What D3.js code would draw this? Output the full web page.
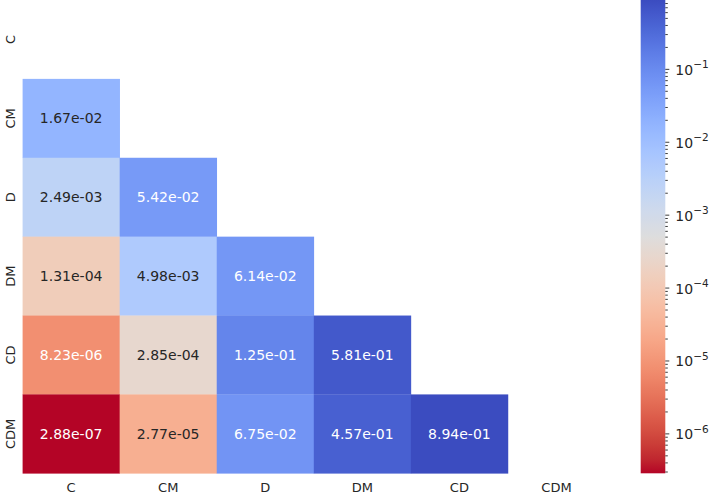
<!DOCTYPE html>
<html><head><meta charset="utf-8">
<script src="https://cdn.jsdelivr.net/npm/d3@7"></script>
<style>body{margin:0;background:#fff}svg{display:block}text{font-family:"DejaVu Sans",sans-serif}</style>
</head><body>
<svg id="c" width="710" height="494"></svg>
<script>
const labels = ["C","CM","D","DM","CD","CDM"];
// lower triangle values: rows[i] has i entries (columns 0..i-1)
const rowCM  = [1.67e-02];
const rowD   = [2.49e-03, 5.42e-02];
const rowDM  = [1.31e-04, 4.98e-03, 6.14e-02];
const rowCD  = [8.23e-06, 2.85e-04, 1.25e-01, 5.81e-01];
const rowCDM = [2.88e-07, 2.77e-05, 6.75e-02, 4.57e-01, 8.94e-01];
const rows = [[], rowCM, rowD, rowDM, rowCD, rowCDM];
const cbarExps = [-6,-5,-4,-3,-2,-1];

// matplotlib coolwarm (Moreland) control points
const cw = [[59,76,192],[68,90,204],[77,104,215],[87,117,225],[98,130,234],[108,142,241],[119,154,247],[130,165,251],[141,176,254],[152,185,255],[163,194,255],[174,201,253],[184,208,249],[194,213,244],[204,217,238],[213,219,230],[221,221,221],[229,216,209],[236,211,197],[241,204,185],[245,196,173],[247,187,160],[247,177,148],[247,166,135],[244,154,123],[241,141,111],[236,127,99],[229,112,88],[222,96,77],[213,80,66],[203,62,56],[192,40,47],[180,4,38]];
const cwScale = d3.scaleLinear().domain(cw.map((d,i)=>i/(cw.length-1))).range(cw.map(c=>d3.rgb(c[0],c[1],c[2]).toString())).interpolate(d3.interpolateRgb).clamp(true);

const cells = [];
rows.forEach((r,i)=>r.forEach((v,j)=>cells.push({row:i,col:j,v})));
const vmin = d3.min(cells,d=>d.v), vmax = d3.max(cells,d=>d.v);
const norm = d3.scaleLog().domain([vmin,vmax]).range([0,1]).clamp(true);
const color = v => cwScale(1 - norm(v));   // coolwarm_r

function lum(c){
  const rgb=d3.rgb(c);
  const f=x=>{x/=255;return x<=0.03928?x/12.92:Math.pow((x+0.055)/1.055,2.4);};
  return 0.2126*f(rgb.r)+0.7152*f(rgb.g)+0.0722*f(rgb.b);
}

const svg = d3.select("#c");
const L=22.6, R=605.0, T=0, B=473.3;
const x = d3.scaleBand().domain(labels).range([L,R]);
const y = d3.scaleBand().domain(labels).range([T,B]);

const g = svg.append("g");
g.selectAll("rect").data(cells).join("rect")
  .attr("x",d=>x(labels[d.col])).attr("y",d=>y(labels[d.row]))
  .attr("width",x.bandwidth()+0.3).attr("height",y.bandwidth()+0.3)
  .attr("fill",d=>color(d.v));
g.selectAll("text").data(cells).join("text")
  .attr("x",d=>x(labels[d.col])+x.bandwidth()/2)
  .attr("y",d=>y(labels[d.row])+y.bandwidth()/2)
  .attr("text-anchor","middle").attr("dominant-baseline","central")
  .attr("font-size","14px")
  .attr("fill",d=>lum(color(d.v))>0.408?"#262626":"#ffffff")
  .text(d=>d.v.toExponential(2).replace(/e([+-])(\d)$/,"e$10$2"));

// axes
const xa = svg.append("g").attr("transform",`translate(0,${B})`)
  .call(d3.axisBottom(x).tickSize(0).tickPadding(9));
xa.select(".domain").remove();
xa.selectAll("text").attr("font-size","13px").attr("fill","#262626").attr("font-family","DejaVu Sans");
const ya = svg.append("g").attr("transform",`translate(${L},0)`)
  .call(d3.axisLeft(y).tickSize(0).tickPadding(0));
ya.select(".domain").remove();
ya.selectAll(".tick text").attr("font-size","13px").attr("fill","#262626").attr("font-family","DejaVu Sans")
  .attr("text-anchor","middle").attr("dy",null).attr("dominant-baseline","central")
  .attr("x",0).attr("y",0).attr("transform","translate(-12,0) rotate(-90)");

// colorbar
const cbL=640.7, cbW=24.6;
const cy = d3.scaleLog().domain([vmin,vmax]).range([B,T]);
const defs = svg.append("defs");
const grad = defs.append("linearGradient").attr("id","cb").attr("x1",0).attr("x2",0).attr("y1",1).attr("y2",0);
d3.range(0,101).forEach(i=>grad.append("stop").attr("offset",i/100).attr("stop-color",cwScale(1-i/100)));
svg.append("rect").attr("x",cbL).attr("y",T).attr("width",cbW).attr("height",B-T).attr("fill","url(#cb)");

const ca = svg.append("g");
const minor=[];
for(let e=-7;e<=0;e++) for(let m=2;m<=9;m++){const v=m*Math.pow(10,e); if(v>=vmin&&v<=vmax) minor.push(v);}
ca.selectAll("line.mi").data(minor).join("line").attr("class","mi")
  .attr("x1",cbL+cbW).attr("x2",cbL+cbW+2.5).attr("y1",d=>cy(d)).attr("y2",d=>cy(d))
  .attr("stroke","#262626").attr("stroke-width",0.9);
const majors = cbarExps.map(e=>({e,v:Math.pow(10,e)}));
ca.selectAll("line.ma").data(majors).join("line").attr("class","ma")
  .attr("x1",cbL+cbW).attr("x2",cbL+cbW+4).attr("y1",d=>cy(d.v)).attr("y2",d=>cy(d.v))
  .attr("stroke","#262626").attr("stroke-width",0.9);
const lt = ca.selectAll("text").data(majors).join("text")
  .attr("x",cbL+cbW+10).attr("y",d=>cy(d.v)+5.5)
  .attr("font-size","14px").attr("fill","#262626");
lt.append("tspan").text("10");
lt.append("tspan").attr("font-size","10.5px").attr("dy",-6.5).text(d=>"\u2212"+Math.abs(d.e));
</script>
</body></html>
